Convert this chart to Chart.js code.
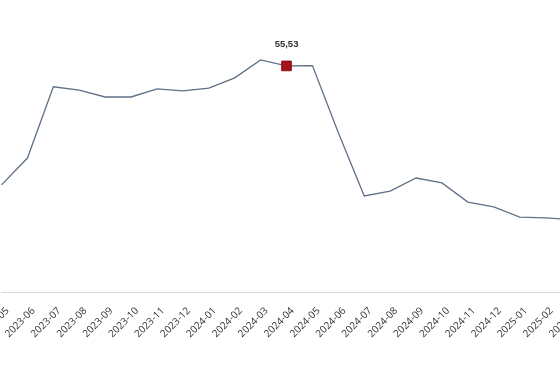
<!DOCTYPE html>
<html><head><meta charset="utf-8">
<script src="https://cdn.jsdelivr.net/npm/chart.js@4"></script>
<style>
html,body{margin:0;padding:0;background:#fff;overflow:hidden;width:560px;height:380px;position:relative}
#c{position:absolute;left:0;top:0}
</style></head>
<body><canvas id="c"></canvas>
<script>
const categories = ['2023-05','2023-06','2023-07','2023-08','2023-09','2023-10','2023-11','2023-12',
  '2024-01','2024-02','2024-03','2024-04','2024-05','2024-06','2024-07','2024-08','2024-09','2024-10',
  '2024-11','2024-12','2025-01','2025-02','2025-03'];
const values = [26.3,32.9,50.4,49.6,47.9,47.9,49.9,49.4,50.1,52.6,57.0,55.53,55.6,39.1,23.6,24.8,28.0,26.8,22.1,20.9,18.4,18.2,17.8];
const highlightIndex = 11;
const highlightLabel = '55,53';
const yMin = 0, yMax = 70;

const labelPlugin = {
  id: 'hlLabel',
  afterDatasetsDraw(chart) {
    const pt = chart.getDatasetMeta(0).data[highlightIndex];
    const ctx = chart.ctx;
    ctx.save();
    ctx.font = 'bold 9.5px "Liberation Sans", Arial, sans-serif';
    ctx.fillStyle = '#333';
    ctx.textAlign = 'center';
    ctx.textBaseline = 'middle';
    ctx.fillText(highlightLabel, pt.x, pt.y - 22);
    ctx.restore();
  }
};

function build(w, padBottom, padTop) {
  const cv = document.getElementById('c');
  cv.style.width = w + 'px'; cv.style.height = '380px';
  cv.width = w; cv.height = 380;
  return new Chart(cv, {
    type: 'line',
    data: {
      labels: categories,
      datasets: [{
        data: values,
        borderColor: '#5f7185',
        borderWidth: 1.3,
        tension: 0,
        fill: false,
        pointRadius: values.map((v, i) => i === highlightIndex ? 6.8 : 0),
        pointHoverRadius: 0,
        pointStyle: 'rect',
        pointBackgroundColor: '#a3141b',
        pointBorderColor: '#8a0f15',
        pointBorderWidth: 1
      }]
    },
    options: {
      responsive: false,
      animation: false,
      events: [],
      layout: { padding: { top: padTop, bottom: padBottom, left: 0, right: 0 } },
      plugins: { legend: { display: false }, tooltip: { enabled: false } },
      scales: {
        x: {
          offset: false,
          grid: { display: false, drawTicks: false },
          border: { display: true, color: '#d9d9d9', width: 1 },
          ticks: {
            autoSkip: false, maxRotation: 45, minRotation: 45, padding: 13, labelOffset: 6,
            color: '#333', font: { family: '"Open Sans", sans-serif', size: 10 }
          }
        },
        y: { display: false, min: yMin, max: yMax }
      }
    },
    plugins: [labelPlugin]
  });
}

let w0 = 660;
let chart = build(w0, 0, 7);
let a = chart.chartArea;
const w1 = w0 + (570 - (a.right - a.left));
const pb = a.bottom - 292;
const pt = 7 - (a.top - 7);
chart.destroy();
chart = build(w1, pb, pt);
const first = chart.getDatasetMeta(0).data[0];
document.getElementById('c').style.left = (2 - first.x) + 'px';
</script>
</body></html>
